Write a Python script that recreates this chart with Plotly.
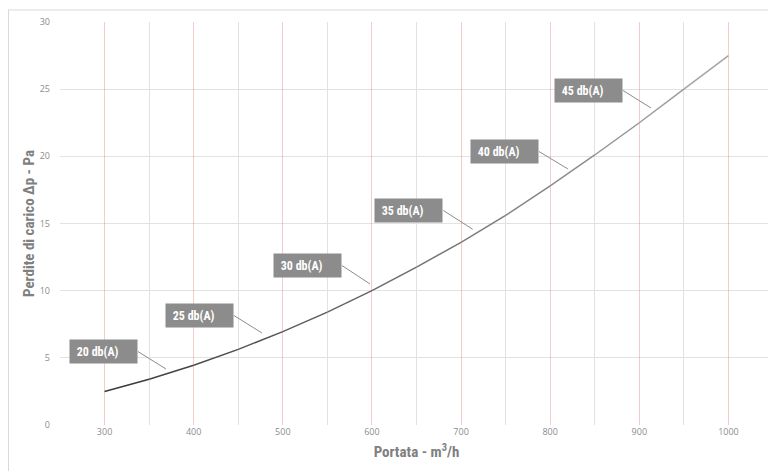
import plotly.graph_objects as go

# ---- data ----
flow_m3h = [300, 350, 400, 450, 500, 550, 600, 650, 700, 750, 800, 850, 900, 950, 1000]
dp_pa = [2.5, 3.4, 4.45, 5.63, 6.95, 8.4, 10.0, 11.75, 13.6, 15.6, 17.8, 20.1, 22.5, 25.0, 27.5]

label_text = ["20 db(A)", "25 db(A)", "30 db(A)", "35 db(A)", "40 db(A)", "45 db(A)"]
label_right_x = [337.4, 445.2, 566.4, 680.1, 787.4, 881.7]   # right edge of label box
label_y = [5.47, 8.15, 11.87, 15.97, 20.36, 24.9]
pointer_x = [368.9, 476.6, 597.8, 713.1, 819.9, 913.1]
pointer_y = [4.17, 6.85, 10.5, 14.57, 19.06, 23.6]

x_ticks = [300, 400, 500, 600, 700, 800, 900, 1000]
x_minor = [250, 350, 450, 550, 650, 750, 850, 950, 1050]
y_ticks = [0, 5, 10, 15, 20, 25, 30]

COND = "Liberation Sans Narrow, Roboto Condensed, Arial Narrow, Roboto, sans-serif"

fig = go.Figure()

# curve drawn as segments with a dark-to-light grey gradient
n = len(flow_m3h)
c0, c1 = (60, 60, 60), (165, 165, 165)
for i in range(n - 1):
    t = i / (n - 2)
    col = "rgb({},{},{})".format(*[int(a + (b - a) * t) for a, b in zip(c0, c1)])
    fig.add_trace(go.Scatter(x=flow_m3h[i:i + 2], y=dp_pa[i:i + 2], mode="lines",
                             line=dict(color=col, width=1.5), hoverinfo="skip",
                             showlegend=False))

# leader lines
for lx, ly, px, py in zip(label_right_x, label_y, pointer_x, pointer_y):
    fig.add_trace(go.Scatter(x=[lx, px], y=[ly, py], mode="lines",
                             line=dict(color="#8c8c8c", width=1), hoverinfo="skip",
                             showlegend=False))

# label boxes
for txt, lx, ly in zip(label_text, label_right_x, label_y):
    fig.add_annotation(x=lx, y=ly, xref="x", yref="y", text=" " + txt, showarrow=False,
                       xanchor="right", yanchor="middle", align="left",
                       width=59, height=15, borderpad=4, bgcolor="#8c8c8c",
                       font=dict(family=COND, size=12, color="white", weight="bold"))

# outer chart frame (top and left edges visible)
fig.add_shape(type="line", xref="paper", yref="paper", x0=-0.0729, x1=1.01, y0=1.0298, y1=1.0298,
              line=dict(color="#d9d9d9", width=1))
fig.add_shape(type="line", xref="paper", yref="paper", x0=-0.0722, x1=-0.0722, y0=1.0298, y1=-0.2,
              line=dict(color="#d9d9d9", width=1))

fig.update_layout(
    width=768, height=463,
    margin=dict(l=52, r=3, t=14, b=46),
    paper_bgcolor="white", plot_bgcolor="white",
    showlegend=False,
    xaxis=dict(
        range=[250, 1050], tickvals=x_ticks, ticktext=[str(v) for v in x_ticks],
        showgrid=True, gridcolor="rgba(225,110,110,0.35)", gridwidth=1,
        zeroline=False, showline=False, ticks="", automargin=False,
        minor=dict(tickvals=x_minor, showgrid=True, gridcolor="#e2e2e2", gridwidth=1),
        tickfont=dict(family="Open Sans, sans-serif", size=9, color="#8c8c8c"),
        title=dict(text="Portata - m<sup>3</sup>/h", standoff=9,
                   font=dict(family=COND, size=15, color="#808080", weight="bold")),
    ),
    yaxis=dict(
        range=[0, 30], tickvals=y_ticks, ticktext=[str(v) for v in y_ticks],
        showgrid=False, zeroline=False, showline=False, ticks="", automargin=False,
        minor=dict(tickvals=y_ticks[1:], showgrid=True, gridcolor="#e2e2e2", gridwidth=1),
        tickfont=dict(family="Open Sans, sans-serif", size=9, color="#8c8c8c"),
        title=dict(text="Perdite di carico Δp - Pa", standoff=1,
                   font=dict(family=COND, size=15, color="#808080", weight="bold")),
        ticklabelstandoff=9,
    ),
)

fig.write_html("out.html")
